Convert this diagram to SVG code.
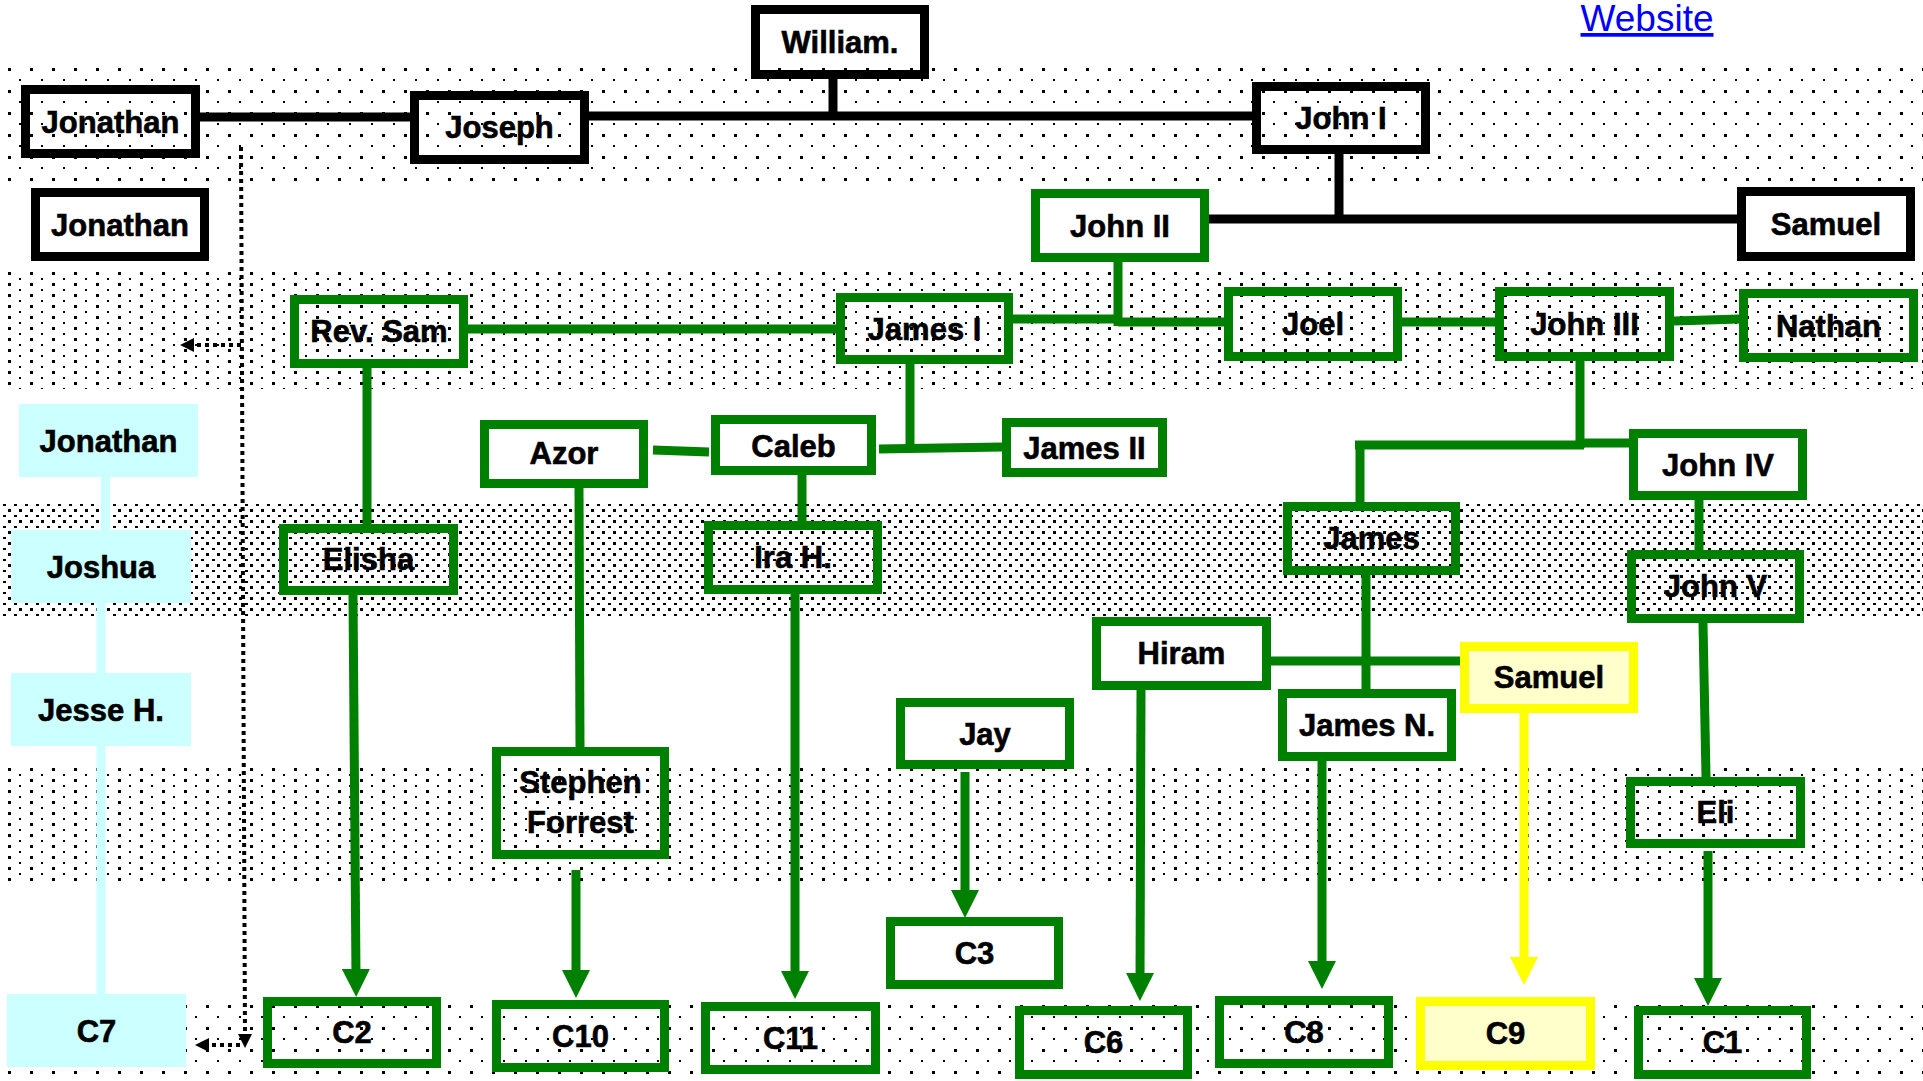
<svg xmlns="http://www.w3.org/2000/svg" width="1923" height="1081" viewBox="0 0 1923 1081">
<style>
.t{font-family:"Liberation Sans",Arial,sans-serif;font-weight:bold;font-size:31px;fill:#000;stroke:#000;stroke-width:0.6;text-anchor:middle}
.bk{fill:none;stroke:#000;stroke-width:9}
.gn{fill:none;stroke:#008000;stroke-width:9}
.yl{fill:#FFFFCC;stroke:#FFFF00;stroke-width:9}
.cy{fill:#CCFFFF;stroke:none}
.lb{fill:none;stroke:#000;stroke-width:9}
.lg{fill:none;stroke:#008000;stroke-width:9}
.lc{fill:none;stroke:#CCFFFF;stroke-width:9}
.ld{fill:none;stroke:#000;stroke-width:4;stroke-dasharray:4 4}
.ag{fill:none;stroke:#008000;stroke-width:9;marker-end:url(#ah)}
.ay{fill:none;stroke:#FFFF00;stroke-width:9;marker-end:url(#ahy)}
</style>
<defs>
<pattern id="p1" patternUnits="userSpaceOnUse" x="8" y="68" width="22" height="22"><rect x="0" y="0" width="3" height="3" fill="#000"/><rect x="11" y="11" width="2" height="2" fill="#000"/></pattern>
<pattern id="p2" patternUnits="userSpaceOnUse" x="8" y="272" width="22" height="11"><rect x="0" y="0" width="3" height="3" fill="#000"/><rect x="11" y="6" width="2" height="2" fill="#000"/></pattern>
<pattern id="p3" patternUnits="userSpaceOnUse" x="3" y="504" width="11" height="11"><rect x="0" y="0" width="3" height="2" fill="#000"/><rect x="5" y="5" width="3" height="3" fill="#000"/></pattern>
<pattern id="p4" patternUnits="userSpaceOnUse" x="8" y="768" width="22" height="11"><rect x="0" y="0" width="3" height="3" fill="#000"/><rect x="11" y="6" width="2" height="2" fill="#000"/></pattern>
<pattern id="p5" patternUnits="userSpaceOnUse" x="8" y="1005" width="22" height="22"><rect x="0" y="0" width="3" height="3" fill="#000"/><rect x="11" y="11" width="2" height="2" fill="#000"/></pattern>
<marker id="ah" viewBox="0 0 28 28" refX="8" refY="14" markerWidth="28" markerHeight="28" markerUnits="userSpaceOnUse" orient="auto"><path d="M0,0 L28,14 L0,28 Z" fill="#008000"/></marker>
<marker id="ahy" viewBox="0 0 28 28" refX="8" refY="14" markerWidth="28" markerHeight="28" markerUnits="userSpaceOnUse" orient="auto"><path d="M0,0 L28,14 L0,28 Z" fill="#FFFF00"/></marker>
<marker id="ahd" viewBox="0 0 14 14" refX="4" refY="7" markerWidth="14" markerHeight="14" markerUnits="userSpaceOnUse" orient="auto"><path d="M0,0 L14,7 L0,14 Z" fill="#000"/></marker>
</defs>
<rect width="1923" height="1081" fill="#fff"/>
<g id="bands">
<rect x="7" y="67" width="1916" height="116" fill="url(#p1)"/>
<rect x="7" y="271" width="1916" height="118" fill="url(#p2)"/>
<rect x="0" y="503" width="1923" height="116" fill="url(#p3)"/>
<rect x="7" y="767" width="1916" height="117" fill="url(#p4)"/>
<rect x="7" y="1004" width="1916" height="77" fill="url(#p5)"/>
</g>
<a id="website-link" href="#"><text x="1647" y="31" font-family="'Liberation Sans',Arial,sans-serif" font-size="37" fill="#0000FF" text-anchor="middle" text-decoration="underline">Website</text></a>
<g id="connectors">
<path class="lb" d="M200,117 H410"/>
<path class="lb" d="M589,116 H1252"/>
<path class="lb" d="M833,79 V116"/>
<path class="lb" d="M1339,154 V219"/>
<path class="lb" d="M1209,219 H1737"/>
<path class="lg" d="M468,329 H836"/>
<path class="lg" d="M1013,319 H1118"/>
<path class="lg" d="M1118,262 V326"/>
<path class="lg" d="M1118,322 H1224"/>
<path class="lg" d="M1402,322 H1495"/>
<path class="lg" d="M1674,321 L1740,319"/>
<path class="lg" d="M367,368 V524"/>
<path class="lg" d="M910,364 V449"/>
<path class="lg" d="M879,449 L1002,447"/>
<path class="lg" d="M653,450 L709,452"/>
<path class="lg" d="M802,475 V521"/>
<path class="lg" d="M579,488 L580,747"/>
<path class="lg" d="M1580,361 V448"/>
<path class="lg" d="M1355,445 H1584"/>
<path class="lg" d="M1580,443 H1629"/>
<path class="lg" d="M1360,441 V502"/>
<path class="lg" d="M1699,500 V550"/>
<path class="lg" d="M1366,575 V689"/>
<path class="lg" d="M1271,661 H1464"/>
<path class="lg" d="M1703,623 L1706,777"/>
<path class="ag" d="M353,595 L356,977"/>
<path class="ag" d="M576,870 V978"/>
<path class="ag" d="M795,594 V979"/>
<path class="ag" d="M965,772 V898"/>
<path class="ag" d="M1141,690 L1140,981"/>
<path class="ag" d="M1322,761 V969"/>
<path class="ag" d="M1708,851 V986"/>
<path class="ay" d="M1524,713 V965"/>
<path class="lc" d="M105.5,477 V530"/>
<path class="lc" d="M101,603 V673"/>
<path class="lc" d="M101,746 V994"/>
<path class="ld" d="M241,147 L245,1038" marker-end="url(#ahd)"/>
<path class="ld" d="M241,345 H190" marker-end="url(#ahd)"/>
<path class="ld" d="M240,1045 H205" marker-end="url(#ahd)"/>
</g>
<g id="n-william"><rect class="bk" x="755.5" y="9.5" width="169" height="65"/><text class="t" x="840" y="53">William.</text></g>
<g id="n-jonathan1"><rect class="bk" x="25.5" y="89.5" width="170" height="64"/><text class="t" x="110.5" y="133">Jonathan</text></g>
<g id="n-joseph"><rect class="bk" x="414.5" y="95.5" width="170" height="64"/><text class="t" x="499.5" y="138">Joseph</text></g>
<g id="n-jonathan2"><rect class="bk" x="35.5" y="192.5" width="169" height="64"/><text class="t" x="120" y="236">Jonathan</text></g>
<g id="n-john1"><rect class="bk" x="1256.5" y="86.5" width="169" height="63"/><text class="t" x="1341" y="129">John I</text></g>
<g id="n-samuel1"><rect class="bk" x="1741.5" y="191.5" width="169" height="65"/><text class="t" x="1826" y="235">Samuel</text></g>
<g id="n-john2"><rect class="gn" x="1035.5" y="193.5" width="169" height="64"/><text class="t" x="1120" y="237">John II</text></g>
<g id="n-revsam"><rect class="gn" x="294.5" y="299.5" width="169" height="64"/><text class="t" x="379" y="342">Rev. Sam</text></g>
<g id="n-james1"><rect class="gn" x="840.5" y="297.5" width="168" height="62"/><text class="t" x="924.5" y="340">James I</text></g>
<g id="n-joel"><rect class="gn" x="1228.5" y="291.5" width="169" height="65"/><text class="t" x="1313" y="335">Joel</text></g>
<g id="n-john3"><rect class="gn" x="1499.5" y="291.5" width="170" height="65"/><text class="t" x="1584.5" y="335">John III</text></g>
<g id="n-nathan"><rect class="gn" x="1743.5" y="293.5" width="170" height="64"/><text class="t" x="1828.5" y="337">Nathan</text></g>
<g id="n-jonathan3"><rect class="cy" x="19" y="404" width="179" height="73"/><text class="t" x="108.5" y="452">Jonathan</text></g>
<g id="n-azor"><rect class="gn" x="484.5" y="424.5" width="159" height="59"/><text class="t" x="564" y="464">Azor</text></g>
<g id="n-caleb"><rect class="gn" x="715.5" y="419.5" width="156" height="51"/><text class="t" x="793.5" y="457">Caleb</text></g>
<g id="n-james2"><rect class="gn" x="1006.5" y="422.5" width="156" height="50"/><text class="t" x="1084.5" y="459">James II</text></g>
<g id="n-john4"><rect class="gn" x="1633.5" y="433.5" width="169" height="62"/><text class="t" x="1718" y="476">John IV</text></g>
<g id="n-joshua"><rect class="cy" x="11" y="530" width="180" height="73"/><text class="t" x="101" y="578">Joshua</text></g>
<g id="n-elisha"><rect class="gn" x="283.5" y="528.5" width="170" height="62"/><text class="t" x="368.5" y="570">Elisha</text></g>
<g id="n-irah"><rect class="gn" x="708.5" y="525.5" width="169" height="64"/><text class="t" x="793" y="568">Ira H.</text></g>
<g id="n-james"><rect class="gn" x="1287.5" y="506.5" width="168" height="64"/><text class="t" x="1371.5" y="549">James</text></g>
<g id="n-john5"><rect class="gn" x="1631.5" y="554.5" width="168" height="64"/><text class="t" x="1715.5" y="597">John V</text></g>
<g id="n-hiram"><rect class="gn" x="1096.5" y="621.5" width="170" height="64"/><text class="t" x="1181.5" y="664">Hiram</text></g>
<g id="n-samuel2"><rect class="yl" x="1464.5" y="646.5" width="169" height="62"/><text class="t" x="1549" y="688">Samuel</text></g>
<g id="n-jesse"><rect class="cy" x="11" y="673" width="180" height="73"/><text class="t" x="101" y="721">Jesse H.</text></g>
<g id="n-jay"><rect class="gn" x="900.5" y="702.5" width="169" height="62"/><text class="t" x="985" y="745">Jay</text></g>
<g id="n-jamesn"><rect class="gn" x="1282.5" y="693.5" width="169" height="63"/><text class="t" x="1367" y="736">James N.</text></g>
<g id="n-stephen"><rect class="gn" x="496.5" y="751.5" width="168" height="103"/><text class="t" x="580.5" y="793">Stephen</text><text class="t" x="580.5" y="833">Forrest</text></g>
<g id="n-eli"><rect class="gn" x="1630.5" y="781.5" width="170" height="62"/><text class="t" x="1715.5" y="823">Eli</text></g>
<g id="n-c3"><rect class="gn" x="890.5" y="921.5" width="168" height="63"/><text class="t" x="974.5" y="964">C3</text></g>
<g id="n-c7"><rect class="cy" x="7" y="994" width="179" height="73"/><text class="t" x="96.5" y="1042">C7</text></g>
<g id="n-c2"><rect class="gn" x="267.5" y="1001.5" width="169" height="62"/><text class="t" x="352" y="1043">C2</text></g>
<g id="n-c10"><rect class="gn" x="496.5" y="1004.5" width="168" height="63"/><text class="t" x="580.5" y="1047">C10</text></g>
<g id="n-c11"><rect class="gn" x="705.5" y="1006.5" width="170" height="63"/><text class="t" x="790.5" y="1049">C11</text></g>
<g id="n-c6"><rect class="gn" x="1019.5" y="1010.5" width="168" height="64"/><text class="t" x="1103.5" y="1053">C6</text></g>
<g id="n-c8"><rect class="gn" x="1219.5" y="1000.5" width="169" height="63"/><text class="t" x="1304" y="1043">C8</text></g>
<g id="n-c9"><rect class="yl" x="1420.5" y="1001.5" width="170" height="64"/><text class="t" x="1505.5" y="1044">C9</text></g>
<g id="n-c1"><rect class="gn" x="1638.5" y="1010.5" width="168" height="64"/><text class="t" x="1722.5" y="1053">C1</text></g>
</svg>
